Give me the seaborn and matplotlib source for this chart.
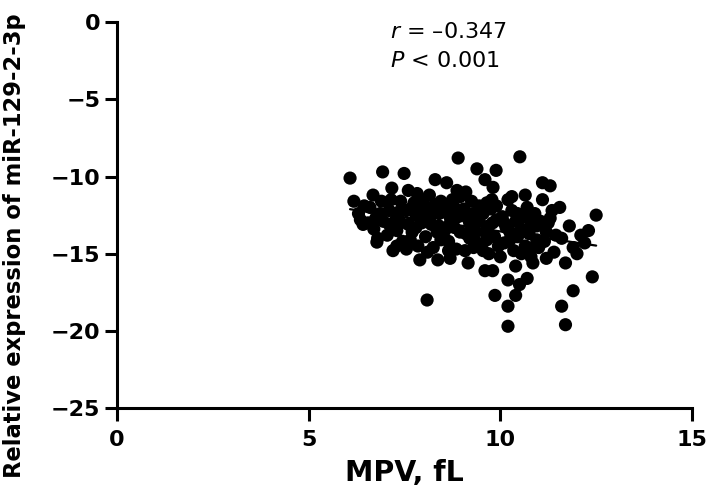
import matplotlib
matplotlib.use("Agg")
import matplotlib.pyplot as plt
import seaborn as sns
import pandas as pd
import numpy as np

mpv = [
    6.08, 6.18, 6.42, 6.30, 6.45, 6.35,
    6.68, 6.86, 6.80, 6.78, 6.93, 6.60, 6.70, 6.95, 6.90, 6.55, 6.75,
    7.17, 7.49, 7.20, 7.10, 7.30, 7.40, 7.05, 7.25, 7.45, 7.35, 7.15, 7.40, 7.30, 7.10,
    7.60, 7.83, 7.90, 7.55, 7.70, 7.80, 7.65, 7.95, 7.75, 7.60, 7.85, 7.70, 7.90, 7.55, 7.95, 7.80,
    8.09, 8.30, 8.37, 8.10, 8.20, 8.40, 8.05, 8.25, 8.45, 8.15, 8.35, 8.00, 8.45, 8.20, 8.30, 8.10, 8.40,
    8.60, 8.87, 8.90, 8.69, 8.55, 8.70, 8.80, 8.95, 8.65, 8.75, 8.85, 8.60, 8.90, 8.55, 8.80, 8.70, 8.95, 8.65,
    9.16, 9.08, 9.39, 9.05, 9.20, 9.30, 9.10, 9.40, 9.25, 9.45, 9.15, 9.35, 9.00, 9.30, 9.45, 9.20, 9.10,
    9.60, 9.81, 9.89, 9.78, 9.60, 9.80, 9.86, 9.55, 9.70, 9.90, 9.65, 9.85, 9.75, 9.95, 9.60, 9.70, 9.90, 9.55, 9.80, 9.65,
    10.20, 10.51, 10.20, 10.40, 10.20, 10.20, 10.40, 10.05, 10.15, 10.30, 10.45, 10.10, 10.35, 10.25, 10.00, 10.40, 10.30, 10.45, 10.10, 10.25,
    10.70, 10.70, 10.50, 10.85, 10.55, 10.65, 10.80, 10.95, 10.60, 10.75, 10.90, 10.55, 10.85, 10.65, 10.95, 10.80,
    11.10, 11.10, 11.30, 11.05, 11.20, 11.35, 11.15, 11.40, 11.25, 11.45, 11.20, 11.30, 11.00,
    11.60, 11.70, 11.90, 12.40, 11.60, 11.80, 12.00, 12.20, 12.30, 12.50, 11.70, 12.10, 11.55, 11.90,
]
expr = [
    -10.1, -11.6, -13.1, -12.4, -11.9, -12.8,
    -11.2, -12.4, -14.0, -14.25, -9.7, -12.0, -13.4, -12.9, -11.6, -13.0, -12.7,
    -10.75, -9.8, -14.8, -12.2, -13.5, -11.6, -13.8, -12.9, -14.2, -12.3, -11.5, -13.0, -14.5, -13.1,
    -10.9, -11.1, -15.4, -12.2, -13.6, -12.5, -14.1, -13.0, -11.7, -13.1, -14.5, -12.0, -12.0, -14.7, -11.5, -13.3,
    -18.0, -10.2, -15.4, -12.0, -13.1, -12.4, -13.9, -14.6, -11.6, -11.2, -13.6, -12.7, -14.1, -12.5, -11.8, -14.9, -13.2,
    -10.4, -10.9, -8.8, -15.3, -12.3, -13.0, -12.0, -13.6, -14.2, -11.5, -14.7, -11.9, -12.6, -13.5, -13.3, -12.7, -11.3, -14.8,
    -15.6, -14.8, -9.5, -12.1, -13.0, -12.4, -13.7, -14.3, -11.6, -12.9, -12.7, -13.6, -11.2, -14.6, -11.9, -14.0, -11.0,
    -10.2, -10.7, -9.6, -11.5, -16.1, -16.1, -17.7, -12.4, -13.2, -12.8, -14.1, -13.9, -12.1, -14.5, -13.6, -15.0, -11.9, -14.8, -13.0, -11.7,
    -11.5, -8.72, -16.7, -17.7, -18.4, -19.7, -15.8, -12.6, -13.3, -12.2, -13.9, -14.3, -14.8, -13.6, -15.2, -12.9, -11.3, -12.4, -13.0, -14.1,
    -12.0, -16.6, -17.0, -15.6, -13.4, -14.5, -13.0, -14.1, -12.6, -13.7, -12.4, -15.0, -14.6, -11.2, -13.2, -15.2,
    -10.4, -11.5, -10.6, -12.9, -13.6, -12.2, -14.2, -14.9, -13.0, -13.8, -15.3, -12.7, -14.6,
    -18.4, -19.6, -17.4, -16.5, -14.0, -13.2, -15.0, -14.3, -13.5, -12.5, -15.6, -13.8, -12.0, -14.6,
]

x_ticks = [0, 5, 10, 15]
y_ticks = [0, -5, -10, -15, -20, -25]
x_label = "MPV, fL"
y_label = "Relative expression of miR-129-2-3p"
stat_r = "\u20130.347"
stat_p = "0.001"

df = pd.DataFrame({"MPV": mpv, "expr": expr})

sns.set_style("ticks")
plt.rcParams['font.family'] = ['DejaVu Sans']
plt.rcParams['mathtext.fontset'] = 'dejavusans'
plt.rcParams['axes.unicode_minus'] = True
for k in ['text.color', 'axes.labelcolor', 'xtick.color', 'ytick.color', 'axes.edgecolor']:
    plt.rcParams[k] = 'black'

fig = plt.figure(figsize=(7.09, 4.94), dpi=100)
ax = fig.add_axes([0.165, 0.174, 0.811, 0.781])

sns.regplot(data=df, x="MPV", y="expr", ax=ax, ci=None, truncate=True,
            scatter_kws=dict(s=90, color="black", edgecolor="none", alpha=1),
            line_kws=dict(color="black", linewidth=1.6))

ax.set_xlim(0, 15)
ax.set_ylim(-25, 0)
ax.set_xticks(x_ticks)
ax.set_yticks(y_ticks)
ax.set_xticklabels([str(t) for t in x_ticks], fontsize=16, fontweight="bold")
ax.set_yticklabels([str(t).replace("-", "\u2212") for t in y_ticks], fontsize=16, fontweight="bold")
ax.set_xlabel(x_label, fontsize=20.5, fontweight="bold", labelpad=6)
ax.set_ylabel(y_label, fontsize=16.3, fontweight="bold")
ax.yaxis.set_label_coords(-0.158, 0.42)

for s in ["top", "right"]:
    ax.spines[s].set_visible(False)
for s in ["left", "bottom"]:
    ax.spines[s].set_linewidth(2.2)
    ax.spines[s].set_color("black")
ax.tick_params(axis="both", which="major", length=9, width=2.2, color="black", direction="out")
ax.tick_params(axis="y", pad=3)
ax.tick_params(axis="x", pad=7)

ax.text(0.475, 0.975, r"$\mathit{r}$ = " + stat_r, transform=ax.transAxes,
        fontsize=16, ha="left", va="center")
ax.text(0.475, 0.9, r"$\mathit{P}$ < " + stat_p, transform=ax.transAxes,
        fontsize=16, ha="left", va="center")

fig.savefig("out.png", dpi=100, facecolor="white")
